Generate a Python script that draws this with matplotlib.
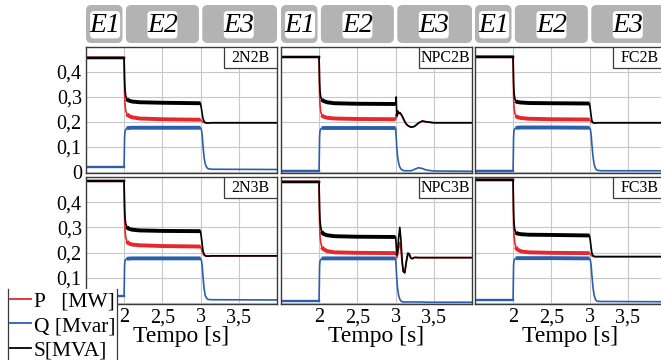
import matplotlib
matplotlib.use('Agg')
import matplotlib.pyplot as plt
from matplotlib.patches import FancyBboxPatch, Rectangle
from matplotlib.lines import Line2D
import numpy as np

plt.rcParams['font.family'] = ['Liberation Serif', 'DejaVu Serif']

# ---------------- data ----------------
T_STD = [1.5, 1.998, 2.0, 2.005, 2.01, 2.02, 2.035, 2.05, 2.1, 2.2, 2.5, 2.998,
         3.0, 3.01, 3.02, 3.03, 3.045, 3.06, 3.08, 3.1, 3.15, 4.0]

S_2N2B = [0.458, 0.458, 0.44, 0.37, 0.33, 0.305, 0.292, 0.287, 0.282, 0.279, 0.277, 0.275,
          0.272, 0.255, 0.235, 0.215, 0.203, 0.198, 0.196, 0.196, 0.197, 0.197]
P_2N2B = [0.458, 0.458, 0.42, 0.32, 0.27, 0.245, 0.232, 0.226, 0.219, 0.214, 0.211, 0.209,
          0.208, 0.205, 0.202, 0.2, 0.198, 0.197, 0.196, 0.196, 0.197, 0.197]
Q_2N2B = [0.02, 0.02, 0.05, 0.14, 0.16, 0.17, 0.174, 0.176, 0.177, 0.177, 0.177, 0.177,
          0.176, 0.17, 0.15, 0.11, 0.06, 0.033, 0.018, 0.013, 0.011, 0.01]

S_FC2B = [0.462, 0.462, 0.44, 0.36, 0.32, 0.295, 0.284, 0.28, 0.278, 0.276, 0.275, 0.274,
          0.27, 0.25, 0.225, 0.205, 0.198, 0.196, 0.196, 0.197, 0.197, 0.197]
P_FC2B = [0.462, 0.462, 0.42, 0.31, 0.26, 0.235, 0.225, 0.22, 0.216, 0.213, 0.211, 0.21,
          0.208, 0.205, 0.2, 0.198, 0.197, 0.196, 0.196, 0.197, 0.197, 0.197]
Q_FC2B = [0.005, 0.005, 0.04, 0.14, 0.165, 0.173, 0.176, 0.177, 0.178, 0.178, 0.178, 0.177,
          0.176, 0.17, 0.15, 0.11, 0.06, 0.03, 0.012, 0.007, 0.005, 0.005]

S_2N3B = [0.485, 0.485, 0.46, 0.38, 0.34, 0.315, 0.302, 0.296, 0.291, 0.288, 0.286, 0.285,
          0.282, 0.26, 0.235, 0.21, 0.193, 0.188, 0.186, 0.186, 0.187, 0.187]
P_2N3B = [0.485, 0.485, 0.45, 0.34, 0.29, 0.26, 0.245, 0.238, 0.232, 0.229, 0.226, 0.224,
          0.222, 0.215, 0.205, 0.197, 0.19, 0.187, 0.186, 0.186, 0.187, 0.187]
Q_2N3B = [0.027, 0.027, 0.06, 0.15, 0.167, 0.173, 0.175, 0.176, 0.177, 0.177, 0.177, 0.177,
          0.176, 0.17, 0.15, 0.11, 0.06, 0.03, 0.018, 0.014, 0.013, 0.012]

S_FC3B = [0.49, 0.49, 0.46, 0.36, 0.32, 0.292, 0.28, 0.276, 0.273, 0.271, 0.27, 0.268,
          0.265, 0.245, 0.22, 0.198, 0.188, 0.185, 0.184, 0.184, 0.184, 0.184]
P_FC3B = [0.49, 0.49, 0.44, 0.31, 0.27, 0.24, 0.222, 0.213, 0.205, 0.201, 0.199, 0.198,
          0.197, 0.195, 0.19, 0.187, 0.185, 0.184, 0.184, 0.184, 0.184, 0.184]
Q_FC3B = [0.012, 0.012, 0.05, 0.15, 0.168, 0.174, 0.177, 0.178, 0.178, 0.178, 0.178, 0.177,
          0.176, 0.17, 0.15, 0.11, 0.06, 0.03, 0.012, 0.007, 0.006, 0.005]

T_NPC = [1.5, 1.998, 2.0, 2.005, 2.01, 2.02, 2.035, 2.05, 2.1, 2.2, 2.5, 2.998,
         3.0, 3.008, 3.015, 3.025, 3.04, 3.055, 3.07, 3.085, 3.1, 3.12, 3.14, 3.16,
         3.18, 3.2, 3.22, 3.25, 3.3, 3.35, 3.4, 3.5, 4.0]

S_NPC2B = [0.46, 0.46, 0.44, 0.36, 0.325, 0.3, 0.29, 0.285, 0.279, 0.275, 0.273, 0.272,
           0.272, 0.3, 0.225, 0.245, 0.235, 0.238, 0.232, 0.225, 0.215, 0.202, 0.192, 0.186,
           0.182, 0.18, 0.18, 0.183, 0.196, 0.204, 0.201, 0.197, 0.197]
P_NPC2B = [0.46, 0.46, 0.42, 0.31, 0.27, 0.24, 0.228, 0.222, 0.217, 0.214, 0.212, 0.211,
           0.21, 0.23, 0.22, 0.24, 0.232, 0.236, 0.23, 0.223, 0.213, 0.201, 0.191, 0.186,
           0.182, 0.18, 0.18, 0.183, 0.196, 0.203, 0.2, 0.197, 0.197]
Q_NPC2B = [0.005, 0.005, 0.04, 0.14, 0.163, 0.172, 0.175, 0.176, 0.176, 0.176, 0.176, 0.176,
           0.175, 0.14, 0.1, 0.065, 0.035, 0.02, 0.012, 0.008, 0.006, 0.005, 0.005, 0.005,
           0.005, 0.005, 0.007, 0.011, 0.017, 0.014, 0.008, 0.004, 0.003]

S_NPC3B = [0.482, 0.482, 0.45, 0.37, 0.33, 0.3, 0.283, 0.275, 0.269, 0.265, 0.263, 0.262,
           0.262, 0.23, 0.19, 0.2, 0.26, 0.3, 0.25, 0.17, 0.125, 0.12, 0.165, 0.198,
           0.195, 0.178, 0.176, 0.181, 0.18, 0.18, 0.18, 0.18, 0.18]
P_NPC3B = [0.482, 0.482, 0.43, 0.32, 0.27, 0.24, 0.222, 0.215, 0.206, 0.201, 0.199, 0.198,
           0.198, 0.19, 0.18, 0.19, 0.22, 0.24, 0.21, 0.16, 0.125, 0.12, 0.16, 0.19,
           0.19, 0.178, 0.176, 0.181, 0.18, 0.18, 0.18, 0.18, 0.18]
Q_NPC3B = [0.008, 0.008, 0.045, 0.145, 0.165, 0.172, 0.176, 0.177, 0.177, 0.177, 0.177, 0.177,
           0.177, 0.14, 0.1, 0.06, 0.03, 0.015, 0.008, 0.005, 0.004, 0.004, 0.004, 0.004,
           0.004, 0.004, 0.004, 0.004, 0.004, 0.004, 0.003, 0.003, 0.003]

PANELS = [
    ("2N2B", T_STD, S_2N2B, P_2N2B, Q_2N2B),
    ("NPC2B", T_NPC, S_NPC2B, P_NPC2B, Q_NPC2B),
    ("FC2B", T_STD, S_FC2B, P_FC2B, Q_FC2B),
    ("2N3B", T_STD, S_2N3B, P_2N3B, Q_2N3B),
    ("NPC3B", T_NPC, S_NPC3B, P_NPC3B, Q_NPC3B),
    ("FC3B", T_STD, S_FC3B, P_FC3B, Q_FC3B),
]

PHASES = ["E1", "E2", "E3"]
PHASE_T = [1.5, 2.0, 3.0, 4.0]
X_TICKS = [2, 2.5, 3, 3.5]
X_TICKLABELS = ["2", "2,5", "3", "3,5"]
Y_TICKS = [0, 0.1, 0.2, 0.3, 0.4]
Y_TICKLABELS = ["0", "0,1", "0,2", "0,3", "0,4"]
LEGEND_LABELS = ["P   [MW]", "Q [Mvar]", "S[MVA]"]

C_P = "#e8262b"
C_Q = "#2b5fae"
C_S = "#000000"

# ---------------- layout ----------------
W, H = 661, 360
fig = plt.figure(figsize=(W / 100, H / 100), dpi=100)

def fr(x0, y0, w, h):
    return [x0 / W, 1 - (y0 + h) / H, w / W, h / H]

COL_X = [86, 281, 475]
COL_W = 191
ROWS = [(47, 126), (177, 127)]
XMIN, XMAX = 1.5, 4.0

axes = []
for r, (ry, rh) in enumerate(ROWS):
    for c, cx in enumerate(COL_X):
        ax = fig.add_axes(fr(cx, ry, COL_W, rh))
        axes.append(ax)

handles = {}
for i, (ax, (name, t, S, P, Q)) in enumerate(zip(axes, PANELS)):
    r, c = divmod(i, 3)
    t = np.asarray(t)
    m = (t >= 2.035) & (t <= 2.998)
    e1 = t <= 1.998
    for key, vals, col in (("Q", Q, C_Q), ("P", P, C_P), ("S", S, C_S)):
        v = np.asarray(vals)
        h, = ax.plot(t, v, color=col, lw=1.2, solid_joinstyle='round')
        ax.plot(t[m], v[m], color=col, lw=2.8, solid_capstyle='butt')
        ax.plot(t[e1], v[e1], color=col, lw=1.7)
        handles.setdefault(key, h)
    ax.set_xlim(XMIN, XMAX)
    ax.set_ylim(-0.004, 0.5)
    ax.set_xticks(X_TICKS)
    ax.set_yticks(Y_TICKS)
    ax.grid(True, color="#c8c8c8", lw=0.8)
    ax.set_axisbelow(True)
    ax.tick_params(length=0, labelsize=14.5, pad=3)
    if c == 0:
        ax.set_yticklabels(Y_TICKLABELS)
    else:
        ax.set_yticklabels([])
    if r == 1:
        ax.set_xticklabels(X_TICKLABELS)
        ax.set_xlabel("Tempo [s]", fontsize=17, labelpad=-1)
    else:
        ax.set_xticklabels([])
    for sp in ax.spines.values():
        sp.set_color("#3a3a3a")
        sp.set_linewidth(1.0)
    # name box
    bw, bh = 53 / COL_W, 21 / ROWS[r][1]
    ax.add_patch(Rectangle((1 - bw, 1 - bh), bw, bh, transform=ax.transAxes,
                           facecolor="white", edgecolor="#3a3a3a", lw=0.9, zorder=5))
    ax.text(1 - bw / 2, 1 - bh / 2, name, transform=ax.transAxes, ha="center",
            va="center", fontsize=11.5, zorder=6)

# ---------------- phase headers ----------------
GAP = 0.022
for cx in COL_X:
    hax = fig.add_axes(fr(cx, 5, COL_W, 38))
    hax.set_xlim(XMIN, XMAX)
    hax.set_ylim(0, 1)
    hax.axis("off")
    asp = (1 / 38) / ((XMAX - XMIN) / COL_W)
    for k, lab in enumerate(PHASES):
        a = PHASE_T[k] + (GAP if k > 0 else 0)
        b = PHASE_T[k + 1] - (GAP if k < 2 else 0)
        hax.add_patch(FancyBboxPatch((a, 0), b - a, 1,
                                     boxstyle="round,pad=0,rounding_size=0.07",
                                     mutation_aspect=asp, facecolor="#b3b3b3",
                                     edgecolor="none", clip_on=False))
        mid = (PHASE_T[k] + PHASE_T[k + 1]) / 2
        ww = 30 * (XMAX - XMIN) / COL_W
        hax.add_patch(FancyBboxPatch((mid - ww / 2, 0.12), ww, 0.72,
                                     boxstyle="round,pad=0,rounding_size=0.05",
                                     mutation_aspect=asp, facecolor="white",
                                     edgecolor="none", clip_on=False))
        hax.text(mid, 0.47, lab, ha="center", va="center", fontsize=20,
                 style="italic", clip_on=False)

# ---------------- legend ----------------
leg = fig.legend([handles["P"], handles["Q"], handles["S"]], LEGEND_LABELS,
                 loc="upper left", bbox_to_anchor=(8 / W, 1 - 289 / H),
                 fontsize=15.5, frameon=True, fancybox=False, handlelength=0.95,
                 handletextpad=0.15, labelspacing=0.22, borderpad=0.1,
                 borderaxespad=0)
leg.get_frame().set_facecolor("white")
leg.get_frame().set_edgecolor("none")
leg.get_frame().set_alpha(1)
leg.set_zorder(20)
for ln in leg.get_lines():
    ln.set_linewidth(1.3)

fig.canvas.draw()
bb = leg.get_window_extent().transformed(fig.transFigure.inverted())
for xx in (bb.x0, bb.x1):
    fig.add_artist(Line2D([xx, xx], [bb.y0 - 0.1, bb.y1], color="#3a3a3a",
                          lw=0.9, transform=fig.transFigure, zorder=21))

fig.savefig("out.png", dpi=100)
